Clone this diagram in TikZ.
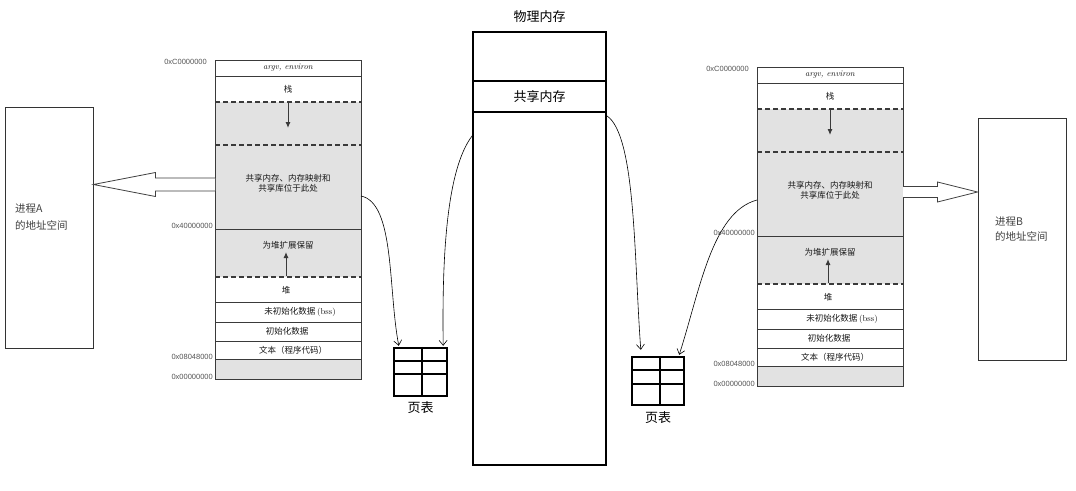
\documentclass[tikz,border=0pt]{standalone}
\usepackage{fontspec}
\setsansfont{Liberation Sans}
\newfontfamily\cjk{Noto Sans CJK SC}
\usetikzlibrary{arrows.meta,calc}
\definecolor{mapgray}{HTML}{E2E2E2}
\definecolor{mapline}{HTML}{3A3A3A}
\definecolor{hexcol}{HTML}{555555}
\begin{document}
\begin{tikzpicture}[x=1pt,y=-1pt,
  mapln/.style={draw=mapline,line width=1pt},
  maptxt/.style={font=\cjk\fontsize{8.5}{10}\selectfont,text=black!90,inner sep=0pt,align=center},
  hexlbl/.style={font=\sffamily\fontsize{7.5}{8}\selectfont,text=hexcol,anchor=east,inner sep=0pt},
  procbox/.style={draw=black!80,line width=0.9pt,minimum width=88,minimum height=241,inner sep=0pt},
  proctxt/.style={font=\cjk\fontsize{10.5}{12}\selectfont,text=black!75,align=left,inner sep=0pt},
  hollow/.style={draw=black!75,line width=0.8pt,fill=white,line join=miter},
  ptab/.style={draw=black,line width=2.4pt,inner sep=0pt},
  physbox/.style={draw=black,line width=1.6pt,inner sep=0pt},
  curve/.style={draw=black,line width=0.6pt,-{Straight Barb[length=5pt,width=8pt]}},
  bigtxt/.style={font=\cjk\fontsize{13}{14}\selectfont,inner sep=0pt},
  memmap/.pic={
    \fill[mapgray] (0,42) rectangle (146,217);
    \fill[mapgray] (0,299) rectangle (146,319);
    \draw[mapln] (0,0) rectangle (146,319);
    \foreach \yy in {16,169,242,262,281,299} \draw[mapln] (0,\yy) -- (146,\yy);
    \foreach \yy in {42,85,217} \draw[mapln,line width=1.2pt,dash pattern=on 5pt off 3pt] (0,\yy) -- (146,\yy);
    \node[maptxt,font=\itshape\fontsize{8.5}{9}\selectfont] (-argv) at (73,8) {argv, environ};
    \node[maptxt] (-stack) at (73,29) {栈};
    \draw[mapln,-{Latex[length=6pt,width=5pt]}] (73,43) -- (73,68);
    \node[maptxt] (-shtxt) at (73,123) {共享内存、内存映射和\\共享库位于此处};
    \node[maptxt] (-res) at (73,185) {为堆扩展保留};
    \draw[mapln,-{Latex[length=6pt,width=5pt]}] (71,216) -- (71,192);
    \node[maptxt] (-heap) at (71,230) {堆};
    \node[maptxt] (-bss) at (85,252) {未初始化数据 {\rmfamily(bss)}};
    \node[maptxt] (-data) at (72,271.5) {初始化数据};
    \node[maptxt] (-text) at (78,290) {文本（程序代码）};
    \node[hexlbl] (-hC) at (-8,2) {0xC0000000};
    \node[hexlbl] (-h4) at (-2,166) {0x40000000};
    \node[hexlbl] (-h08) at (-2,297) {0x08048000};
    \node[hexlbl] (-h0) at (-2,317) {0x00000000};
    \coordinate (-shR) at (146,136);
    \coordinate (-shL) at (0,133);
    \coordinate (-arrL) at (0,124.5);
    \coordinate (-arrR) at (146,125);
  }]
\useasboundingbox (0,0) rectangle (1076,490);
\fill[white] (0,0) rectangle (1076,490);

% memory maps
\pic (L) at (215,60) {memmap};
\pic (R) at (757,67) {memmap};

% process boxes
\node[procbox] (procA) at (49,227.5) {};
\node[proctxt,anchor=west] (procAt) at (15,217.5) {进程A\\[5pt]的地址空间};
\node[procbox,minimum height=242] (procB) at (1022,239) {};
\node[proctxt,anchor=west] (procBt) at (995,229) {进程B\\[3pt]的地址空间};

% hollow arrows
\coordinate (tipA) at (procA.east |- L-arrL);
\draw[hollow] ($(L-arrL)+(0,-6.5)$) -- ($(tipA)+(62,-6.5)$) -- ($(tipA)+(62,-12)$) -- (tipA)
  -- ($(tipA)+(62,12)$) -- ($(tipA)+(62,6.5)$) -- ($(L-arrL)+(0,6.5)$);
\coordinate (tipB) at (procB.west |- R-arrR);
\draw[hollow] ($(R-arrR)+(0,-5.5)$) -- ($(tipB)+(-40,-5.5)$) -- ($(tipB)+(-40,-10)$) -- (tipB)
  -- ($(tipB)+(-40,10)$) -- ($(tipB)+(-40,5.5)$) -- ($(R-arrR)+(0,5.5)$);

% physical memory
\node[physbox,minimum width=133,minimum height=433] (phys) at (539.5,248.5) {};
\node[physbox,minimum width=133,minimum height=31,bigtxt] (shm) at (539.5,96.5) {共享内存};
\node[bigtxt] (physt) at (539.5,17) {物理内存};

% page tables
\node[ptab,minimum width=53,minimum height=48] (pt1) at (420.5,372) {};
\draw[ptab] (pt1.north) ++(1.5,0) -- ($(pt1.south)+(1.5,0)$);
\draw[ptab] ($(pt1.north west)+(0,14)$) -- ($(pt1.north east)+(0,14)$);
\draw[ptab] ($(pt1.north west)+(0,27)$) -- ($(pt1.north east)+(0,27)$);
\node[bigtxt] (pt1t) at (420.5,408) {页表};

\node[ptab,minimum width=52,minimum height=48] (pt2) at (658,381) {};
\draw[ptab] (pt2.north) ++(2,0) -- ($(pt2.south)+(2,0)$);
\draw[ptab] ($(pt2.north west)+(0,14)$) -- ($(pt2.north east)+(0,14)$);
\draw[ptab] ($(pt2.north west)+(0,28)$) -- ($(pt2.north east)+(0,28)$);
\node[bigtxt] (pt2t) at (658,418) {页表};

% mapping curves
\draw[curve] (L-shR) .. controls (395,203) and (388,290) .. ($(pt1.north west)+(6,-1)$);
\draw[curve] ($(shm.south west)+(0,23)$) .. controls (446,170) and (442,260) .. ($(pt1.north east)+(-5,-1)$);
\draw[curve] ($(shm.south east)+(0,3)$) .. controls (636,135) and (634,260) .. ($(pt2.north west)+(10,-6)$);
\draw[curve] (R-shL) .. controls (712,212) and (700,290) .. ($(pt2.north east)+(-6,-1)$);
\end{tikzpicture}
\end{document}
